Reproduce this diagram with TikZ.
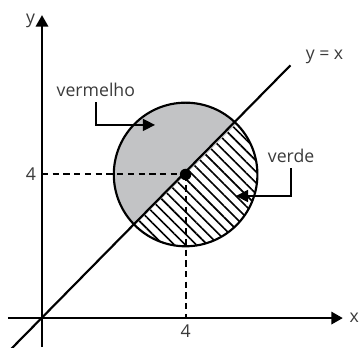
\documentclass[tikz,border=0pt]{standalone}
\usepackage{fontspec}
\setmainfont{Open Sans}
\usepackage{xcolor}
\usetikzlibrary{arrows.meta,positioning,patterns.meta}
\definecolor{textgray}{HTML}{3A3A3A}
\definecolor{halfgray}{HTML}{C2C3C5}
\begin{document}
\begin{tikzpicture}[
axis/.style={line width=2pt, -{Triangle[length=3.2mm, width=3.4mm]}},
curve/.style={line width=1.7pt},
guide/.style={line width=1.6pt, dash pattern=on 5pt off 3.5pt},
callout/.style={line width=1.7pt, -{Triangle[length=3.4mm, width=3.3mm]}},
lbl/.style={text=textgray, font=\fontsize{14}{16}\selectfont, inner sep=4pt},
hatch/.style={pattern={Lines[angle=-45, distance=6.2pt, line width=1.3pt]}}
]
\useasboundingbox (-1.17,-0.81) rectangle (8.83,8.86);

\coordinate (O) at (0,0);
\coordinate (C) at (4,4);
\coordinate (xs) at (-0.95,0);
\coordinate (xe) at (8.38,0);
\coordinate (ys) at (0,-0.81);
\coordinate (ye) at (0,8.44);
\coordinate (ds) at (-0.85,-0.85);
\coordinate (de) at (6.92,7.04);
\coordinate (xfoot) at (4,0);
\coordinate (yfoot) at (0,4);

% half disks
\fill[halfgray] (C) ++(45:2) arc[start angle=45, end angle=225, radius=2] -- cycle;
\fill[hatch] (C) ++(225:2) arc[start angle=225, end angle=405, radius=2] -- cycle;
\draw[curve] (C) circle (2);

% axes and the line y = x
\draw[axis] (xs) -- (xe);
\draw[axis] (ys) -- (ye);
\draw[curve] (ds) -- (de);

\node[lbl, anchor=west] (xlbl) at (8.42,0) {x};
\node[lbl, anchor=east] (ylbl) at (-0.05,8.28) {y};
\node[lbl, anchor=base west] (dlbl) at (7.2,7.2) {y = x};

% guides to the centre
\draw[guide] (yfoot) -- (C);
\draw[guide] (C) -- (xfoot);
\fill (C) circle (0.16);
\node[lbl, anchor=east] (four y) at (-0.02,4) {4};
\node[lbl, below=0.05cm of xfoot] (four x) {4};

% callouts
\node[lbl, anchor=base] (verm) at (1.5,6.16) {vermelho};
\coordinate (vtip) at (3.15,5.38);
\draw[callout] (verm.south) |- (vtip);

\node[lbl, anchor=base] (verde) at (6.94,4.32) {verde};
\coordinate (gtip) at (5.40,3.40);
\draw[callout] (verde.south) |- (gtip);
\end{tikzpicture}
\end{document}
